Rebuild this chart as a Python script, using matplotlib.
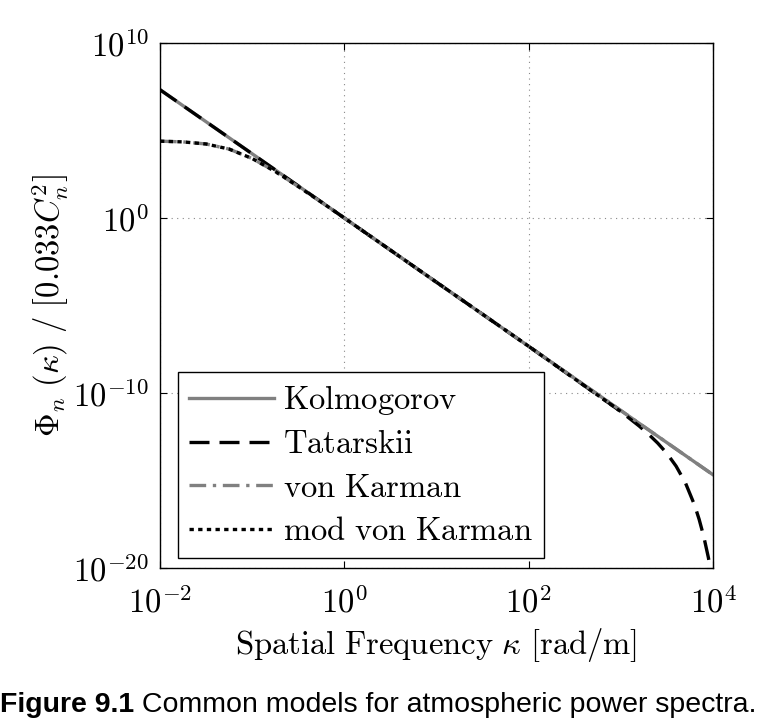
import numpy as np
import matplotlib
matplotlib.use("Agg")
import matplotlib.pyplot as plt
from matplotlib.ticker import FixedLocator, FixedFormatter, NullLocator

plt.rcParams['mathtext.fontset'] = 'cm'
plt.rcParams['font.family'] = ['DejaVu Sans']

# ---- data (log10 kappa, log10 Phi) ----
kol_logk = [-2, -1, 0, 1, 2, 3, 4]
kol_logphi = [7.33, 3.67, 0.0, -3.67, -7.33, -11.0, -14.67]

tat_logk = [-2, -1, 0, 1, 2, 3.0, 3.2, 3.3, 3.4, 3.5, 3.6, 3.7, 3.8, 3.85, 3.9, 3.95, 4.0]
tat_logphi = [7.33, 3.67, 0.0, -3.67, -7.33, -11.06, -11.89, -12.35, -12.86, -13.45,
              -14.18, -15.12, -16.40, -17.22, -18.20, -19.40, -20.85]

vk_logk = [-2, -1.75, -1.5, -1.25, -1.0, -0.75, -0.5, -0.25, 0, 1, 2, 3, 4]
vk_logphi = [4.39, 4.35, 4.23, 3.94, 3.40, 2.66, 1.80, 0.91, 0.0, -3.67, -7.33, -11.0, -14.67]

# mod von Karman: only visible part (hidden under the other curves beyond ~1e3)
mvk_logk = [-2, -1.75, -1.5, -1.25, -1.0, -0.75, -0.5, -0.25, 0, 1, 2, 3.0]
mvk_logphi = [4.39, 4.35, 4.23, 3.94, 3.40, 2.66, 1.80, 0.91, 0.0, -3.67, -7.33, -11.06]

series_names = ['Kolmogorov', 'Tatarskii', 'von Karman', 'mod von Karman']

xtick_vals = [1e-2, 1e0, 1e2, 1e4]
xtick_labels = [r'$\mathrm{10}^{-2}$', r'$\mathrm{10}^{0}$', r'$\mathrm{10}^{2}$', r'$\mathrm{10}^{4}$']
ytick_vals = [1e-20, 1e-10, 1e0, 1e10]
ytick_labels = [r'$\mathrm{10}^{-20}$', r'$\mathrm{10}^{-10}$', r'$\mathrm{10}^{0}$', r'$\mathrm{10}^{10}$']


def tex(s):
    return r'$\mathrm{' + s.replace(' ', r'\ ') + '}$'


fig = plt.figure(figsize=(7.84, 7.18), dpi=100)
ax = fig.add_axes([0.2041, 0.2089, 0.7053, 0.7312])

gray = '#808080'
lw = 2.4

def pw(a):
    return np.power(10.0, np.asarray(a, dtype=float))

ax.plot(pw(kol_logk), pw(kol_logphi), color=gray, lw=lw, ls='-', label=tex(series_names[0]))
ax.plot(pw(tat_logk), pw(tat_logphi), color='black', lw=lw, dashes=(6, 3), label=tex(series_names[1]))
ax.plot(pw(vk_logk), pw(vk_logphi), color=gray, lw=lw, dashes=(5, 2, 1, 2), label=tex(series_names[2]))
ax.plot(pw(mvk_logk), pw(mvk_logphi), color='black', lw=lw, dashes=(1.3, 1.3), label=tex(series_names[3]))

ax.set_xscale('log')
ax.set_yscale('log')
ax.set_xlim(1e-2, 1e4)
ax.set_ylim(1e-20, 1e10)

ax.xaxis.set_major_locator(FixedLocator(xtick_vals))
ax.xaxis.set_major_formatter(FixedFormatter(xtick_labels))
ax.yaxis.set_major_locator(FixedLocator(ytick_vals))
ax.yaxis.set_major_formatter(FixedFormatter(ytick_labels))
ax.xaxis.set_minor_locator(NullLocator())
ax.yaxis.set_minor_locator(NullLocator())

ax.tick_params(which='major', direction='in', length=5, width=0.8, top=True, right=True,
               labelsize=23.5, pad=8)
ax.tick_params(axis='x', pad=13)
ax.grid(True, which='major', ls=(0, (1, 4)), color='#888888', lw=0.8)
ax.set_axisbelow(True)
for s in ax.spines.values():
    s.set_linewidth(1.0)

ax.set_xlabel(r'$\mathrm{Spatial\ Frequency}\ \kappa\ [\mathrm{rad/m}]$', fontsize=23.5, labelpad=5)
ax.set_ylabel(r'$\Phi_n\ (\kappa)\ /\ \left[0.033C_n^2\right]$', fontsize=23.5, labelpad=2)

leg = ax.legend(loc='lower left', bbox_to_anchor=(0.0325, 0.019), borderaxespad=0,
                fontsize=23.5, handlelength=2.6, handletextpad=0.3, labelspacing=0.32,
                borderpad=0.33, fancybox=False, framealpha=1, edgecolor='black')
leg.get_frame().set_linewidth(1.0)

fig.canvas.draw()
t1 = fig.text(0.0, 0.009, 'Figure 9.1', fontsize=20.5, fontweight='bold', family='Liberation Sans',
              ha='left', va='baseline')
fig.canvas.draw()
bb = t1.get_window_extent()
x1 = fig.transFigure.inverted().transform((bb.x1, bb.y0))[0]
fig.text(x1, 0.009, ' Common models for atmospheric power spectra.', fontsize=20.5,
         family='Liberation Sans', ha='left', va='baseline')

fig.savefig('out.png', dpi=100)
